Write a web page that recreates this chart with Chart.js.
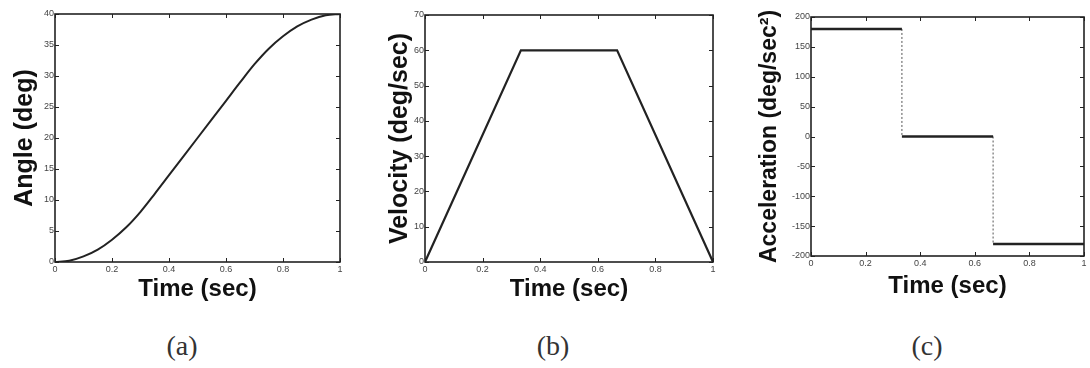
<!DOCTYPE html>
<html>
<head>
<meta charset="utf-8">
<script src="https://cdn.jsdelivr.net/npm/chart.js@4"></script>
<style>
  html, body { margin: 0; padding: 0; background: #fff; }
  body { width: 1090px; height: 368px; position: relative; overflow: hidden; }
  .panel { position: absolute; top: 0; height: 310px; }
  .cap {
    position: absolute; top: 330px; font-family: "Liberation Serif", "DejaVu Serif", serif;
    font-size: 28px; color: #333; transform: translateX(-50%);
  }
</style>
</head>
<body>
<div class="panel" style="left:0;width:360px"><canvas id="chartA"></canvas></div>
<div class="panel" style="left:370px;width:360px"><canvas id="chartB"></canvas></div>
<div class="panel" style="left:740px;width:350px"><canvas id="chartC"></canvas></div>
<div class="cap" style="left:182px">(a)</div>
<div class="cap" style="left:553px">(b)</div>
<div class="cap" style="left:927px">(c)</div>
<script>
// values
const angleTime = [0, 0.05, 0.1, 0.15, 0.2, 0.25, 0.3, 0.35, 0.4, 0.45, 0.5,
  0.55, 0.6, 0.65, 0.7, 0.75, 0.8, 0.85, 0.9, 0.95, 1];
const angle = [0, 0.2, 0.9, 2.0, 3.6, 5.6, 8.1, 11.0, 14.0, 17.0, 20.0,
  23.0, 26.0, 29.0, 31.9, 34.4, 36.4, 38.0, 39.1, 39.8, 40];

const velTime = [0, 0.333, 0.667, 1];
const velocity = [0, 60, 60, 0];

const accTime = [0, 0.333, 0.333, 0.667, 0.667, 1];
const accel = [180, 180, 0, 0, -180, -180];

const timeTicks = [0, 0.2, 0.4, 0.6, 0.8, 1];

const INK = '#222';
const TICK_FONT = { family: 'Liberation Sans, Arial, sans-serif', size: 9 };
const TITLE_FAMILY = 'Liberation Sans, Arial, sans-serif';

function pts(xs, ys) {
  return xs.map((x, i) => ({ x: x, y: ys[i] }));
}

// box around the plot and inward tick marks on all four sides
const boxPlugin = {
  id: 'box',
  afterDraw(chart) {
    const { ctx, chartArea: a } = chart;
    const xs = chart.scales.x, ys = chart.scales.y;
    ctx.save();
    ctx.strokeStyle = INK;
    ctx.lineWidth = 1;
    xs.ticks.forEach(t => {
      const px = Math.round(xs.getPixelForValue(t.value)) + 0.5;
      ctx.beginPath();
      ctx.moveTo(px, a.bottom); ctx.lineTo(px, a.bottom - 4);
      ctx.moveTo(px, a.top); ctx.lineTo(px, a.top + 4);
      ctx.stroke();
    });
    ys.ticks.forEach(t => {
      const py = Math.round(ys.getPixelForValue(t.value)) + 0.5;
      ctx.beginPath();
      ctx.moveTo(a.left, py); ctx.lineTo(a.left + 4, py);
      ctx.moveTo(a.right, py); ctx.lineTo(a.right - 4, py);
      ctx.stroke();
    });
    ctx.lineWidth = 1.6;
    ctx.strokeRect(a.left, a.top, a.right - a.left, a.bottom - a.top);
    ctx.restore();
  }
};

function makeChart(id, cfg) {
  const ctx = document.getElementById(id).getContext('2d');
  return new Chart(ctx, {
    type: 'line',
    data: { datasets: cfg.datasets },
    options: {
      responsive: true,
      maintainAspectRatio: false,
      animation: false,
      layout: { padding: { top: cfg.top, right: cfg.right, left: 0, bottom: 0 } },
      plugins: { legend: { display: false }, tooltip: { enabled: false } },
      elements: { point: { radius: 0 } },
      scales: {
        x: {
          type: 'linear', min: 0, max: 1,
          afterBuildTicks: s => { s.ticks = timeTicks.map(v => ({ value: v })); },
          ticks: {
            font: TICK_FONT, color: '#444', padding: 2, maxRotation: 0,
            callback: v => String(+v.toFixed(1))
          },
          grid: { display: false, drawTicks: false },
          border: { display: false },
          title: {
            display: true, text: 'Time (sec)', color: '#111',
            font: { family: TITLE_FAMILY, size: 24, weight: 'bold' },
            padding: { top: 0, bottom: cfg.xTitlePad }
          },
          afterFit: s => { s.height = cfg.xHeight; }
        },
        y: {
          min: cfg.ymin, max: cfg.ymax,
          ticks: { font: TICK_FONT, color: '#444', padding: 1, stepSize: cfg.step },
          grid: { display: false, drawTicks: false },
          border: { display: false },
          title: {
            display: true, text: cfg.ytitle, color: '#111',
            font: { family: TITLE_FAMILY, size: cfg.ytitleSize, weight: 'bold' },
            padding: { top: cfg.yTitlePad, bottom: 0 }
          },
          afterFit: s => { s.width = cfg.yWidth; }
        }
      }
    },
    plugins: [boxPlugin]
  });
}

makeChart('chartA', {
  top: 14, right: 20, yWidth: 55, xHeight: 48, xTitlePad: 6, yTitlePad: 10,
  ymin: 0, ymax: 40, step: 5, ytitle: 'Angle (deg)', ytitleSize: 25,
  datasets: [{
    data: pts(angleTime, angle), borderColor: INK, borderWidth: 2,
    cubicInterpolationMode: 'monotone'
  }]
});

makeChart('chartB', {
  top: 15, right: 17, yWidth: 55, xHeight: 48, xTitlePad: 6, yTitlePad: 15,
  ymin: 0, ymax: 70, step: 10, ytitle: 'Velocity (deg/sec)', ytitleSize: 25,
  datasets: [{
    data: pts(velTime, velocity), borderColor: INK, borderWidth: 2.2
  }]
});

// acceleration: solid levels, dotted jumps
const accSolid = [], accJumps = [];
for (let i = 0; i < accTime.length; i += 2) {
  accSolid.push({
    data: pts(accTime.slice(i, i + 2), accel.slice(i, i + 2)),
    borderColor: INK, borderWidth: 2.6
  });
  if (i + 2 < accTime.length) {
    accJumps.push({
      data: pts([accTime[i + 1], accTime[i + 2]], [accel[i + 1], accel[i + 2]]),
      borderColor: '#555', borderWidth: 1, borderDash: [2, 2]
    });
  }
}

makeChart('chartC', {
  top: 17, right: 6, yWidth: 71, xHeight: 54, xTitlePad: 9, yTitlePad: 16,
  ymin: -200, ymax: 200, step: 50, ytitle: 'Acceleration (deg/sec²)', ytitleSize: 23,
  datasets: accSolid.concat(accJumps)
});
</script>
</body>
</html>
